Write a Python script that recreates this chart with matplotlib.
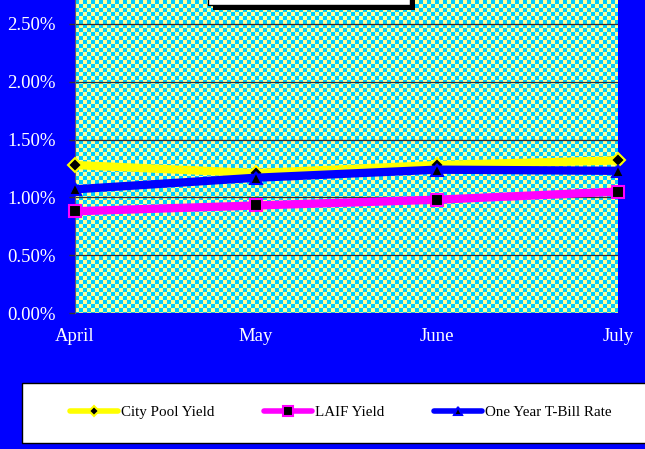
import numpy as np
import matplotlib
matplotlib.use("Agg")
import matplotlib.pyplot as plt
from matplotlib.patches import Rectangle
from matplotlib.ticker import FuncFormatter

MONTHS = ["April", "May", "June", "July"]
CITY_POOL = [1.28, 1.21, 1.28, 1.32]
LAIF = [0.88, 0.93, 0.98, 1.05]
TBILL = [1.07, 1.17, 1.24, 1.23]
YTICKS = [0.0, 0.5, 1.0, 1.5, 2.0, 2.5]

W, H = 645, 449
BLUE = "#0000FF"
SERIF = "Liberation Serif"

fig = plt.figure(figsize=(W / 100, H / 100), dpi=100, facecolor=BLUE)

# plot area in pixel coords
left, right, bottom = 75, 618, 313
ax = fig.add_axes([left / W, (H - bottom) / H, (right - left) / W, bottom / H])
ax.set_facecolor(BLUE)
ymax = bottom / 115.6

# checkerboard fill (4px cells)
nx, ny = (right - left) // 4 + 1, bottom // 4 + 1
ii, jj = np.indices((ny, nx))
board = np.where((ii + jj) % 2 == 0, 0, 1)
cmap = matplotlib.colors.ListedColormap(["#00CCFF", "#FFFF99"])
ax.imshow(board, cmap=cmap, interpolation="nearest", aspect="auto",
          extent=(0, 3 * nx * 4 / (right - left), ymax - ny * 4 / 115.6, ymax),
          origin="upper", zorder=0)

x = np.arange(len(MONTHS))
for yv in YTICKS:
    ax.axhline(yv, color="#333333", lw=0.9, zorder=1)

ax.plot(x, CITY_POOL, color="#FFFF00", lw=6, marker="D", ms=7,
        mfc="black", mec="#FFFF00", mew=1.5, zorder=3, label="City Pool Yield",
        clip_on=False)
ax.plot(x, LAIF, color="#FF00FF", lw=6, marker="s", ms=9,
        mfc="black", mec="#FF00FF", mew=1.5, zorder=3, label="LAIF Yield",
        clip_on=False)
ax.plot(x, TBILL, color="#0000FF", lw=6, marker="^", ms=8,
        mfc="black", mec="#0000FF", mew=1.5, zorder=4, label="One Year T-Bill Rate",
        clip_on=False)

ax.set_xlim(0, 3)
ax.set_ylim(0, ymax)
ax.set_yticks(YTICKS)
ax.yaxis.set_major_formatter(FuncFormatter(lambda v, p: f"{v:.2f}%"))
ax.set_xticks(x)
ax.set_xticklabels(MONTHS)
ax.tick_params(axis="y", colors="white", labelsize=13.5, length=4, width=1,
               pad=10)
ax.tick_params(axis="y", color="#333333")
ax.tick_params(axis="x", colors="white", labelsize=13.5, length=0, pad=11)
for lab in ax.get_xticklabels() + ax.get_yticklabels():
    lab.set_family(SERIF)
for s in ["top", "right", "bottom"]:
    ax.spines[s].set_visible(False)
ax.spines["left"].set_color("#555577")

# title box (cut off at top) with shadow
def px_rect(x0, y0, x1, y1, **kw):
    fig.patches.append(Rectangle((x0 / W, 1 - y1 / H), (x1 - x0) / W, (y1 - y0) / H,
                                 transform=fig.transFigure, figure=fig, **kw))

px_rect(213, -10, 415, 10, facecolor="black", edgecolor="none", zorder=5)
px_rect(208, -10, 410, 5, facecolor="white", edgecolor="black", lw=1, zorder=6)

# legend box
px_rect(22, 383, 660, 443, facecolor="white", edgecolor="black", lw=1, zorder=1)
leg = fig.legend(loc="center left", bbox_to_anchor=(70 / W, 1 - 412 / H), ncol=3,
                 frameon=False, borderpad=0, borderaxespad=0, handlelength=3.2,
                 handletextpad=0.2, columnspacing=3.3, markerscale=0.75,
                 prop={"family": SERIF, "size": 10.8})
for ln in leg.get_lines():
    ln.set_linewidth(4)
    ln.set_solid_capstyle("round")

fig.savefig("out.png", dpi=100, facecolor=BLUE)
